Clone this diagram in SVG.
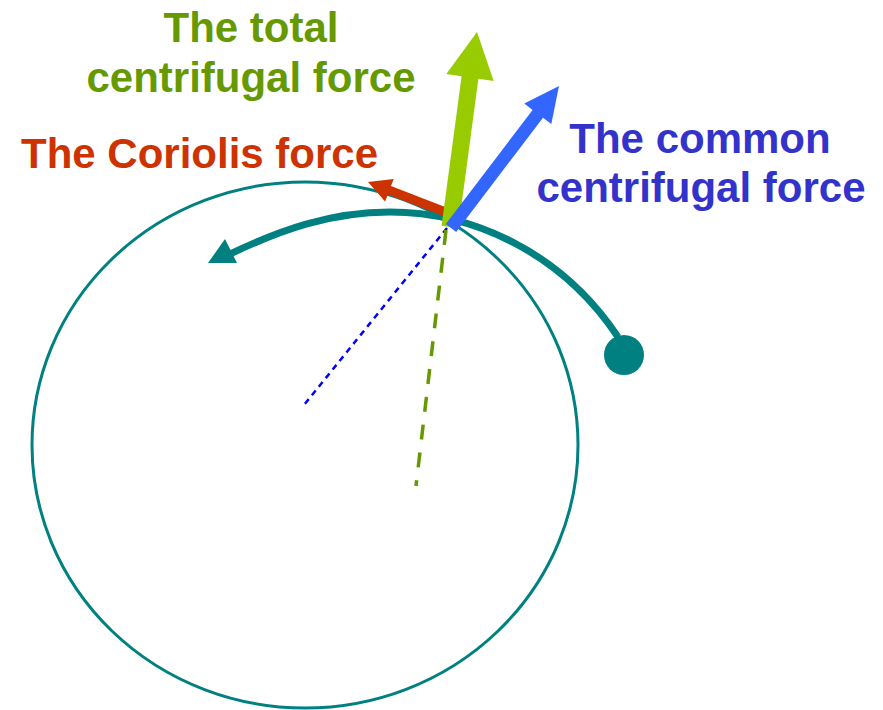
<svg xmlns="http://www.w3.org/2000/svg" width="883" height="710" viewBox="0 0 883 710">
<style>
text{font-family:"Liberation Sans",Arial,sans-serif;font-weight:bold;font-size:42px}
.g{fill:#669900}.r{fill:#CC3300}.b{fill:#3333CC}
.teal{stroke:#008080;fill:none}
</style>
<rect width="883" height="710" fill="#ffffff"/>
<g id="orbit">
<ellipse class="teal" cx="305" cy="445" rx="273" ry="263" stroke-width="3"/>
</g>
<g id="connectors">
<path class="teal" d="M618,337 C560,250 470,212 390,212 C330,212 280,230 228,255" stroke-width="7"/>
<polygon points="208,263 225,239 237,263" fill="#008080"/>
<line x1="447" y1="228" x2="304" y2="405" stroke="#0000FF" stroke-width="2.5" stroke-dasharray="6 5"/>
<line x1="446" y1="230" x2="416" y2="486" stroke="#669900" stroke-width="3.5" stroke-dasharray="15 13"/>
<polygon id="coriolis-arrow" points="449.6,208.8 391,186.1 393.7,179.1 368,182 385.1,201.5 387.8,194.5 446.4,217.2" fill="#CC3300"/>
<polygon id="total-arrow" points="441.6,225.7 461.6,76.2 446.3,73.9 477,32 493.7,81.1 478.4,78.8 458.4,228.3" fill="#99CC00"/>
<polygon id="common-arrow" points="445.8,224.1 532.6,109.9 524.3,103.5 559,86 551.3,124.1 543,117.7 456.2,231.9" fill="#3366FF"/>
</g>
<g id="body">
<circle cx="624" cy="355" r="20" fill="#008080"/>
</g>
<g id="label-total">
<text class="g" x="251" y="42" text-anchor="middle">The total</text>
<text class="g" x="251" y="92" text-anchor="middle">centrifugal force</text>
</g>
<g id="label-coriolis">
<text class="r" x="21" y="168">The Coriolis force</text>
</g>
<g id="label-common">
<text class="b" x="700" y="153" text-anchor="middle">The common</text>
<text class="b" x="701" y="202" text-anchor="middle">centrifugal force</text>
</g>
</svg>
